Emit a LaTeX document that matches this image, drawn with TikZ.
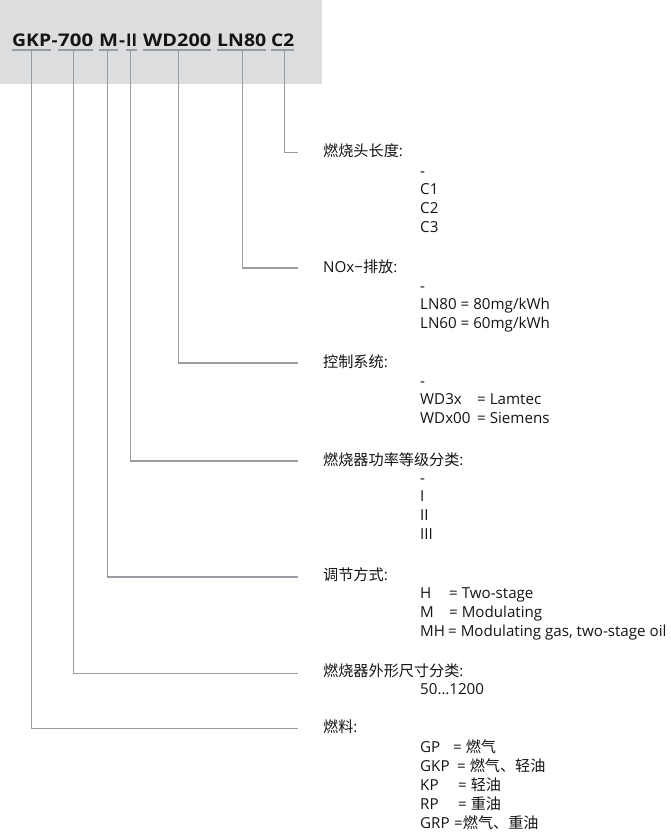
\documentclass[tikz,border=0pt]{standalone}
\usepackage{fontspec}
\setmainfont{Open Sans}
\newfontfamily\cjk{Noto Sans CJK SC}
\definecolor{boxgray}{HTML}{DCDDDF}
\definecolor{linegray}{HTML}{9A9CA3}
\definecolor{txt}{HTML}{141414}
\newcommand{\hw}[2]{\resizebox{#1bp}{\height}{#2}}
\begin{document}
\begin{tikzpicture}[x=1bp,y=-1bp,
  hdr/.style={anchor=base west, inner sep=0pt, font=\fontsize{17.5}{20}\selectfont\bfseries, text=txt},
  uline/.style={draw=linegray, line width=1.2bp},
  conn/.style={draw=linegray, line width=1.2bp},
  lab/.style={anchor=base west, inner sep=0pt, font=\fontsize{15.2}{19}\selectfont, text=txt},
  vals/.style={anchor=base west, inner sep=0pt, font=\fontsize{15.2}{19}\selectfont, text=txt}]
\useasboundingbox (0,0) rectangle (671,839);
\fill[boxgray] (0,0) rectangle (322,84);

% header
\node[hdr] (hGKP) at (12,46.5) {\hw{39}{GKP}};
\node[hdr] (hd1) at (51.5,46.5) {\hw{6}{-}};
\node[hdr] (h700) at (58,46.5) {\hw{35}{700}};
\node[hdr] (hM) at (99,46.5) {\hw{19}{M}};
\node[hdr] (hd2) at (119,46.5) {\hw{6}{-}};
\node[hdr] (hII) at (126,46.5) {\hw{11}{II}};
\node[hdr] (hWD) at (143,46.5) {\hw{68}{WD200}};
\node[hdr] (hLN) at (217,46.5) {\hw{49}{LN80}};
\node[hdr] (hC) at (271,46.5) {\hw{23}{C2}};
\foreach \n in {hGKP,h700,hM,hII,hWD,hLN,hC}
  \draw[uline] ([yshift=-3.5bp]\n.base west) -- ([yshift=-3.5bp]\n.base east);

% labels
\node[lab] (lC) at (323,156.5) {{\cjk 燃烧头长度}:};
\node[lab] (lLN) at (323,272) {NOx−{\cjk 排放}:};
\node[lab] (lWD) at (323,367.5) {{\cjk 控制系统}:};
\node[lab] (lII) at (323,465) {{\cjk 燃烧器功率等级分类}:};
\node[lab] (lM) at (323,580.5) {{\cjk 调节方式}:};
\node[lab] (l700) at (323,676.5) {{\cjk 燃烧器外形尺寸分类}:};
\node[lab] (lGKP) at (323,732) {{\cjk 燃料}:};

% values
\node[vals] (vC) at (420,176) {\begin{tabular}[t]{@{}l@{}}-\\C1\\C2\\C3\end{tabular}};
\node[vals] (vLN) at (420,291) {\begin{tabular}[t]{@{}l@{}}-\\LN80 = 80mg/kWh\\LN60 = 60mg/kWh\end{tabular}};
\node[vals] (vWD) at (420,386) {\begin{tabular}[t]{@{}l@{}}-\\\makebox[57bp][l]{WD3x}= Lamtec\\\makebox[57bp][l]{WDx00}= Siemens\end{tabular}};
\node[vals] (vII) at (420,483) {\begin{tabular}[t]{@{}l@{}}-\\I\\II\\III\end{tabular}};
\node[vals] (vM) at (420,598.5) {\begin{tabular}[t]{@{}l@{}}\makebox[29bp][l]{H}= Two-stage\\\makebox[29bp][l]{M}= Modulating\\\makebox[28bp][l]{MH}= Modulating gas, two-stage oil\end{tabular}};
\node[vals] (v700) at (420,694) {50…1200};
\node[vals] (vGKP) at (420,752.5) {\begin{tabular}[t]{@{}l@{}}\makebox[33bp][l]{GP}= {\cjk 燃气}\\\makebox[37bp][l]{GKP}= {\cjk 燃气、轻油}\\\makebox[38bp][l]{KP}= {\cjk 轻油}\\\makebox[38bp][l]{RP}= {\cjk 重油}\\\makebox[34bp][l]{GRP}={\cjk 燃气、重油}\end{tabular}};

% connector ends
\coordinate (eC) at (298,152.5);
\coordinate (eLN) at (298,268);
\coordinate (eWD) at (298,363);
\coordinate (eII) at (298,461);
\coordinate (eM) at (298,577);
\coordinate (e700) at (298,673.5);
\coordinate (eGKP) at (298,728.5);

\draw[conn] ([xshift=1.5bp,yshift=-3.5bp]hC.base) |- (eC);
\draw[conn] ([xshift=0.5bp,yshift=-3.5bp]hLN.base) |- (eLN);
\draw[conn] ([xshift=1bp,yshift=-3.5bp]hWD.base) |- (eWD);
\draw[conn] ([xshift=-1.5bp,yshift=-3.5bp]hII.base) |- (eII);
\draw[conn] ([xshift=-1.5bp,yshift=-3.5bp]hM.base) |- (eM);
\draw[conn] ([xshift=-2.5bp,yshift=-3.5bp]h700.base) |- (e700);
\draw[conn] ([yshift=-3.5bp]hGKP.base) |- (eGKP);
\end{tikzpicture}
\end{document}
